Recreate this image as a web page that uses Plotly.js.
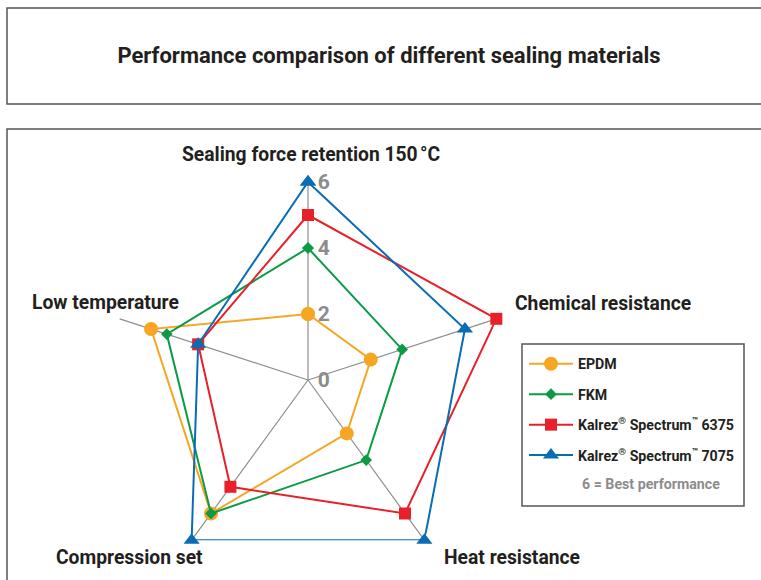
<!DOCTYPE html>
<html>
<head>
<meta charset="utf-8">
<script src="https://cdn.plot.ly/plotly-3.0.1.min.js"></script>
<style>html,body{margin:0;padding:0;background:#fff;}#chart{width:761px;height:580px;}</style>
</head>
<body>
<div id="chart"></div>
<script>
const categories = ["Sealing force retention 150\u202F°C", "Chemical resistance", "Heat resistance", "Compression set", "Low temperature"];
const seriesNames = ["EPDM", "FKM", "Kalrez<sup>®</sup> Spectrum<sup>™</sup> 6375", "Kalrez<sup>®</sup> Spectrum<sup>™</sup> 7075"];
const epdm = [2, 2, 2, 5, 5];
const fkm = [4, 3, 3, 5, 4.5];
const kalrez6375 = [5, 6, 5, 4, 3.5];
const kalrez7075 = [6, 5, 6, 6, 3.5];
const radialTicks = [0, 2, 4, 6];
const noteText = "6 = Best performance";

const W = 761, H = 580;
const FONT = "Roboto, 'Liberation Sans', Arial, sans-serif";
const px = x => x / W;
const py = y => 1 - y / H;

const styles = [
  {color: "#F6A623", symbol: "circle", size: 14},
  {color: "#0C9A46", symbol: "diamond", size: 9},
  {color: "#E8202A", symbol: "square", size: 12},
  {color: "#0A6CB5", symbol: "triangle-up", size: 14}
];
const allSeries = [epdm, fkm, kalrez6375, kalrez7075];

const traces = allSeries.map((vals, i) => ({
  type: "scatterpolar",
  r: vals.concat([vals[0]]),
  theta: categories.concat([categories[0]]),
  mode: "lines+markers",
  name: seriesNames[i],
  legendgroup: "g" + i,
  line: {color: styles[i].color, width: 2},
  marker: {color: styles[i].color, symbol: styles[i].symbol, size: styles[i].size},
  cliponaxis: false,
  hoverinfo: "skip"
}));

// category label placement (pixels)
const labelPos = [
  {x: 311, y: 155, xanchor: "center"},
  {x: 513, y: 303, xanchor: "left"},
  {x: 442, y: 557, xanchor: "left"},
  {x: 205, y: 557, xanchor: "right"},
  {x: 181, y: 302, xanchor: "right"}
];

const annotations = categories.map((c, i) => ({
  text: "<b>" + c + "</b>",
  x: px(labelPos[i].x), y: py(labelPos[i].y),
  xref: "paper", yref: "paper",
  xanchor: labelPos[i].xanchor, yanchor: "middle",
  showarrow: false,
  font: {family: FONT, size: 19.3, color: "#231F20"}
}));
annotations.push({
  text: "<b>" + noteText + "</b>",
  x: px(580), y: py(484), xref: "paper", yref: "paper",
  xanchor: "left", yanchor: "middle", showarrow: false,
  font: {family: FONT, size: 14.2, color: "#8C8C8C"}
});

const cx = 308, cy = 380, R = 198;
const layout = {
  width: W, height: H,
  margin: {l: 0, r: 0, t: 0, b: 0},
  paper_bgcolor: "#fff",
  title: {
    text: "<b>Performance comparison of different sealing materials</b>",
    x: px(389), y: py(55), xanchor: "center", yanchor: "middle",
    font: {family: FONT, size: 22, color: "#231F20"}
  },
  showlegend: true,
  legend: {
    x: px(524), y: py(348), xanchor: "left", yanchor: "top",
    borderwidth: 0,
    bgcolor: "rgba(0,0,0,0)",
    font: {family: FONT, size: 14.2, color: "#231F20", weight: "bold"},
    itemwidth: 44,
    tracegroupgap: 9,
    itemsizing: "trace"
  },
  polar: {
    domain: {x: [px(cx - R), px(cx + R)], y: [py(cy + R), py(cy - R)]},
    bgcolor: "rgba(0,0,0,0)",
    gridshape: "linear",
    angularaxis: {
      direction: "clockwise", rotation: 90,
      showticklabels: false, ticks: "",
      showline: false,
      showgrid: true, gridcolor: "#8E8E8E", gridwidth: 1.2
    },
    radialaxis: {
      range: [0, 6], angle: 90,
      tickvals: radialTicks, ticktext: radialTicks.map(String),
      showgrid: false, showline: false,
      ticks: "outside", ticklen: 5, tickcolor: "rgba(0,0,0,0)",
      tickangle: 90, side: "clockwise",
      tickfont: {family: FONT, size: 21, color: "#8C8C8C", weight: "bold"}
    }
  },
  shapes: [
    {type: "rect", xref: "paper", yref: "paper", x0: px(7), x1: px(800), y0: py(8), y1: py(104),
      line: {color: "#555", width: 1.5}, fillcolor: "rgba(0,0,0,0)", layer: "below"},
    {type: "rect", xref: "paper", yref: "paper", x0: px(7), x1: px(800), y0: py(129), y1: py(620),
      line: {color: "#555", width: 1.5}, fillcolor: "rgba(0,0,0,0)", layer: "below"},
    {type: "rect", xref: "paper", yref: "paper", x0: px(522), x1: px(744), y0: py(344), y1: py(506),
      line: {color: "#555", width: 1.5}, fillcolor: "rgba(0,0,0,0)", layer: "below"}
  ],
  annotations: annotations
};

Plotly.newPlot("chart", traces, layout, {displayModeBar: false, staticPlot: true});
</script>
</body>
</html>
